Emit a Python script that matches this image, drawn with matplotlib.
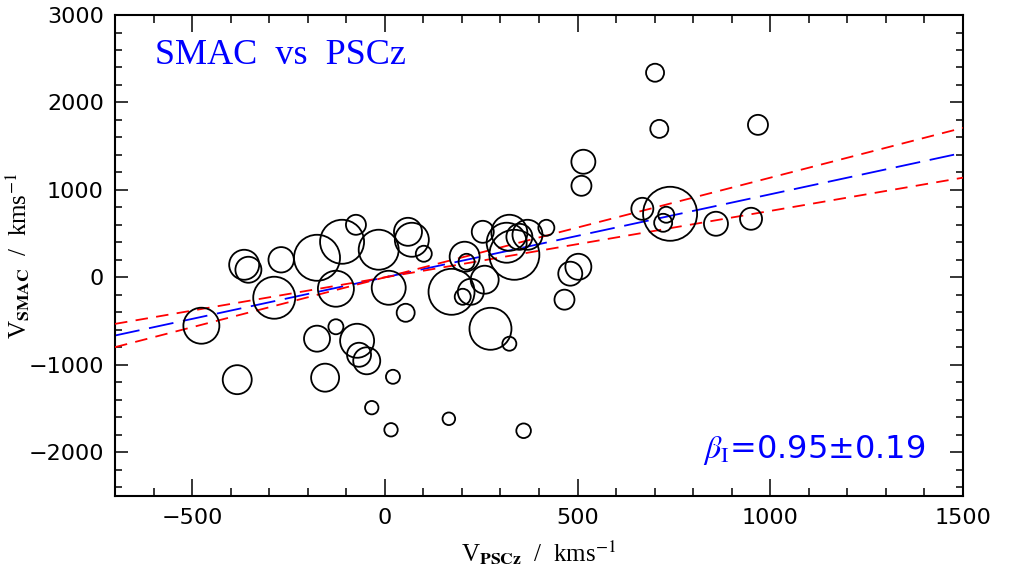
import numpy as np
import matplotlib
matplotlib.use("Agg")
import matplotlib.pyplot as plt
from matplotlib.ticker import MultipleLocator

# peculiar velocities, PSCz prediction vs SMAC measurement (km/s)
v_pscz = [-365, -354, -269, -176, -111, -75, -16, 60, 70, 101,
          -287, -476, -127, 10, 54, -176, -127, -72, -67, -47,
          -383, -155, 21, -34, 16,
          207, 212, 254, 316, 323, 336, 349, 370, 419, 173,
          259, 223, 202, 274, 323, 166, 360, 466, 481, 502,
          515, 510, 668, 740, 730, 722, 859, 950, 701, 712, 968]
v_smac = [144, 87, 201, 224, 407, 601, 316, 521, 430, 270,
          -233, -553, -130, -119, -405, -701, -565, -725, -885, -954,
          -1170, -1147, -1137, -1490, -1743,
          236, 178, 521, 396, 510, 258, 464, 487, 567, -165,
          -27, -165, -222, -588, -759, -1617, -1754, -255, 42, 121,
          1322, 1047, 784, 727, 716, 624, 613, 670, 2340, 1698, 1744]
# symbol weight (larger circle = more weight)
weight = [15, 13, 12.7, 23, 22, 10, 20, 14, 17, 8,
          21, 18, 18, 17, 9, 13, 7.5, 17, 12, 13.5,
          14.5, 14, 7, 6.7, 6.7,
          15, 8, 11, 20, 18, 25, 13, 15, 8, 23,
          14, 13, 8, 21, 7, 6.3, 7.3, 10, 12, 13,
          12, 10, 11, 27, 8, 9, 12, 11, 9, 9, 10]

beta = 0.95
beta_err = 0.19
x_range = [-700, 1500]

plt.rcParams['lines.scale_dashes'] = False
plt.rcParams['mathtext.fontset'] = 'stix'

fig = plt.figure(figsize=(10.10, 5.73), dpi=100)
ax = fig.add_axes([0.1139, 0.1344, 0.8396, 0.8394])

xf = np.array(x_range, dtype=float)
ax.plot(xf, beta * xf, color='blue', lw=1.3, dashes=(18, 7), zorder=2)
ax.plot(xf, (beta + beta_err) * xf, color='red', lw=1.3, dashes=(9, 6), zorder=3)
ax.plot(xf, (beta - beta_err) * xf, color='red', lw=1.3, dashes=(9, 6), zorder=3)

sizes = (2 * np.array(weight) * 0.72) ** 2
ax.scatter(v_pscz, v_smac, s=sizes, facecolors='none', edgecolors='black',
           linewidths=1.3, zorder=4)

ax.set_xlim(x_range)
ax.set_ylim(-2500, 3000)
ax.xaxis.set_major_locator(MultipleLocator(500))
ax.xaxis.set_minor_locator(MultipleLocator(100))
ax.yaxis.set_major_locator(MultipleLocator(1000))
ax.yaxis.set_minor_locator(MultipleLocator(200))

for s in ax.spines.values():
    s.set_linewidth(1.5)
ax.tick_params(which='both', direction='in', top=True, right=True, width=1.1,
               labelsize=16, labelfontfamily='DejaVu Sans')
ax.tick_params(axis='x', which='major', length=12, pad=9)
ax.tick_params(axis='x', which='minor', length=6)
ax.tick_params(axis='y', which='major', length=9.5, pad=8)
ax.tick_params(axis='y', which='minor', length=5)

serif = 'Liberation Serif'
sp = '\u2002'
ax.set_xlabel(r'V$_{\mathbf{PSCz}}$' + sp + '/' + sp + r'kms$^{-1}$',
              fontsize=18, family=serif)
ax.set_ylabel(r'V$_{\mathbf{SMAC}}$' + sp + '/' + sp + r'kms$^{-1}$',
              fontsize=18, family=serif)
ax.xaxis.set_label_coords(0.5, -0.087)
ax.yaxis.set_label_coords(-0.098, 0.5)

ax.text(0.047, 0.915, 'SMAC' + sp + 'vs' + sp + 'PSCz', transform=ax.transAxes,
        color='blue', fontsize=26, family=serif, va='center', ha='left')
ax.text(0.955, 0.095, r'$\beta_{\rm I}$=0.95±0.19', transform=ax.transAxes,
        color='blue', fontsize=23, family='DejaVu Sans', va='center', ha='right')

fig.savefig('out.png', dpi=100)
